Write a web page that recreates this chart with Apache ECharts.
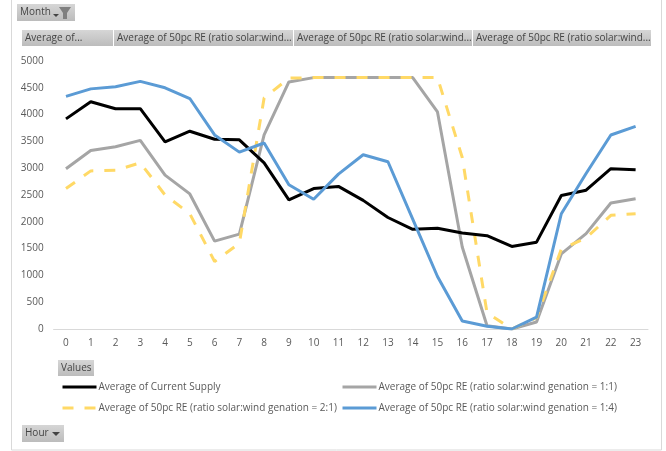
<!DOCTYPE html>
<html><head><meta charset="utf-8">
<style>html,body{margin:0;padding:0;background:#fff}#c{width:666px;height:451px}</style>
<script src="https://cdn.jsdelivr.net/npm/echarts@6/dist/echarts.min.js"></script>
</head><body><div id="c"></div>
<script>
const hours = ['0','1','2','3','4','5','6','7','8','9','10','11','12','13','14','15','16','17','18','19','20','21','22','23'];
const current = [3920,4240,4110,4110,3490,3690,3540,3530,3100,2410,2620,2660,2400,2080,1860,1880,1790,1740,1540,1620,2490,2590,2990,2970];
const re11 = [2990,3330,3400,3520,2870,2520,1640,1770,3620,4610,4690,4690,4690,4690,4690,4050,1530,60,0,130,1400,1780,2350,2430];
const re21 = [2620,2950,2960,3100,2500,2150,1260,1600,4310,4680,4690,4690,4690,4690,4690,4690,3200,300,0,210,1490,1700,2120,2150];
const re14 = [4340,4480,4520,4620,4500,4300,3620,3300,3470,2690,2420,2890,3250,3120,2050,980,150,50,0,220,2150,2900,3620,3780];
const names = ['Average of Current Supply','Average of 50pc RE (ratio solar:wind genation = 1:1)','Average of 50pc RE (ratio solar:wind genation = 2:1)','Average of 50pc RE (ratio solar:wind genation = 1:4)'];
const headers = ['Average of...','Average of 50pc RE (ratio solar:wind...','Average of 50pc RE (ratio solar:wind...','Average of 50pc RE (ratio solar:wind...'];
const FONT = '"Open Sans", sans-serif', TXT = '#595959';
const grad = {type:'linear',x:0,y:0,x2:0,y2:1,colorStops:[{offset:0,color:'#d6d6d6'},{offset:1,color:'#bcbcbc'}]};
function btn(x,y,w,h,label,tx){return [
  {type:'rect',shape:{x,y,width:w,height:h},style:{fill:grad},silent:true},
  {type:'text',x:tx===undefined?x+3:tx,y:y+h/2,style:{text:label,font:'10px '+FONT,fill:'#444',textVerticalAlign:'middle'},silent:true}];}
const gfx = [
  {type:'rect',shape:{x:11.5,y:-2,width:650,height:452},style:{fill:'none',stroke:'#d9d9d9',lineWidth:1},silent:true},
  ...btn(17,4,58,17,'Month',20),
  {type:'polygon',shape:{points:[[53,14],[59,14],[56,17]]},style:{fill:'#444'},silent:true},
  {type:'polygon',shape:{points:[[59,7],[71,7],[67,13],[67,19],[63,19],[63,13]]},style:{fill:'#7f7f7f'},silent:true},
  ...btn(22,30,91,16,headers[0],25),
  ...btn(114,30,179,16,headers[1],117),
  ...btn(294,30,178,16,headers[2],297),
  ...btn(473,30,178,16,headers[3],476),
  ...btn(58,360,36,16,'Values',61),
  ...btn(22,425,42,17,'Hour',25),
  {type:'polygon',shape:{points:[[52,432],[60,432],[56,436]]},style:{fill:'#444'},silent:true}
];
const styles = [
 {color:'#000000',width:3,type:'solid'},
 {color:'#a5a5a5',width:3,type:'solid'},
 {color:'#ffd966',width:3,type:[11,11]},
 {color:'#5b9bd5',width:3,type:'solid'}];
const datas = [current,re11,re21,re14];
const legendPos = [[61,381],[341,381],[61,402],[341,402]];
const chart = echarts.init(document.getElementById('c'),null,{renderer:'canvas'});
chart.setOption({
  animation:false,
  backgroundColor:'#fff',
  textStyle:{fontFamily:FONT},
  grid:{left:53.6,right:18,top:61,height:268},
  xAxis:{type:'category',data:hours,boundaryGap:true,
    axisLine:{lineStyle:{color:'#d9d9d9',width:1}},axisTick:{show:false},
    axisLabel:{color:TXT,fontSize:10,margin:9,interval:0,fontFamily:FONT}},
  yAxis:{type:'value',min:0,max:5000,interval:500,splitLine:{show:false},axisLine:{show:false},axisTick:{show:false},
    axisLabel:{color:TXT,fontSize:10,margin:10,fontFamily:FONT,formatter:v=>String(v)}},
  legend:names.map((n,i)=>({show:true,data:[n],left:legendPos[i][0],top:legendPos[i][1]+1,itemWidth:34,itemHeight:12,itemGap:0,
    selectedMode:false,padding:0,itemStyle:{opacity:0},lineStyle:{width:3,color:styles[i].color,type:styles[i].type},
    textStyle:{color:TXT,fontSize:10,fontFamily:FONT,padding:[0,0,0,-3]}})),
  series:names.map((n,i)=>({name:n,type:'line',data:datas[i],symbol:'none',smooth:false,
    lineStyle:styles[i],itemStyle:{color:styles[i].color},z:[4,2,3,5][i]})),
  graphic:gfx
});
</script></body></html>
